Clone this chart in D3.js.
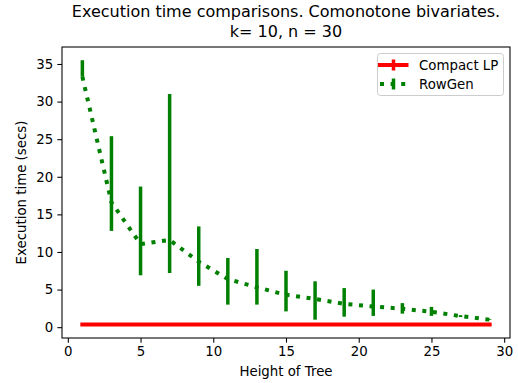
<!DOCTYPE html>
<html>
<head>
<meta charset="utf-8">
<script src="https://cdn.jsdelivr.net/npm/d3@7"></script>
<style>
  body { margin: 0; background: #fff; }
  text { font-family: "DejaVu Sans", sans-serif; fill: #000; }
</style>
</head>
<body>
<div id="chart"></div>
<script>
// Data
const heights = [1, 3, 5, 7, 9, 11, 13, 15, 17, 19, 21, 23, 25, 27, 29];

const compactMean = [0.35, 0.35, 0.35, 0.35, 0.35, 0.35, 0.35, 0.35, 0.35, 0.35, 0.35, 0.35, 0.35, 0.35, 0.35];
const compactLo = [0.32, 0.32, 0.32, 0.32, 0.32, 0.32, 0.32, 0.32, 0.32, 0.32, 0.32, 0.32, 0.32, 0.32, 0.32];
const compactHi = [0.38, 0.38, 0.38, 0.38, 0.38, 0.38, 0.38, 0.38, 0.38, 0.38, 0.38, 0.38, 0.38, 0.38, 0.38];

const rowgenMean = [33.3, 16.6, 11.05, 11.6, 8.7, 6.4, 5.3, 4.3, 3.75, 3.1, 2.75, 2.45, 2.05, 1.47, 1.0];
const rowgenLo = [33.3, 12.8, 6.9, 7.2, 5.5, 3.0, 3.0, 2.1, 1.0, 1.4, 1.5, 1.8, 1.5, 1.35, 0.95];
const rowgenHi = [35.5, 25.4, 18.7, 31.0, 13.4, 9.2, 10.4, 7.5, 6.1, 5.2, 5.0, 3.2, 2.7, 1.6, 1.05];

const xTicks = [0, 5, 10, 15, 20, 25, 30];
const yTicks = [0, 5, 10, 15, 20, 25, 30, 35];

const seriesNames = ["Compact LP", "RowGen"];

// Dimensions
const dimensions = {
  width: 518,
  height: 383,
  margin: { top: 47, bottom: 45, left: 62, right: 8 },
};
dimensions.containerWidth = dimensions.width - dimensions.margin.left - dimensions.margin.right;
dimensions.containerHeight = dimensions.height - dimensions.margin.top - dimensions.margin.bottom;

const svg = d3.select("#chart")
  .append("svg")
  .attr("width", dimensions.width)
  .attr("height", dimensions.height);

const container = svg.append("g")
  .attr("transform", `translate(${dimensions.margin.left}, ${dimensions.margin.top})`);

// Scales (matplotlib style 5% margins)
const xMin = d3.min(heights), xMax = d3.max(heights);
const xPad = (xMax - xMin) * 0.05;
const yMinData = d3.min([...compactLo, ...rowgenLo]);
const yMaxData = d3.max([...compactHi, ...rowgenHi]);
const yPad = (yMaxData - yMinData) * 0.05;

const xScale = d3.scaleLinear()
  .domain([xMin - xPad, xMax + xPad])
  .range([0, dimensions.containerWidth]);
const yScale = d3.scaleLinear()
  .domain([yMinData - yPad, yMaxData + yPad])
  .range([dimensions.containerHeight, 0]);

// Axes
const xAxis = d3.axisBottom(xScale).tickValues(xTicks).tickSize(4.67).tickPadding(4.2);
const yAxis = d3.axisLeft(yScale).tickValues(yTicks).tickSize(4.67).tickPadding(4.2);

const xAxisGroup = container.append("g")
  .attr("transform", `translate(0, ${dimensions.containerHeight})`)
  .call(xAxis);
const yAxisGroup = container.append("g").call(yAxis);

[xAxisGroup, yAxisGroup].forEach((g) => {
  g.select(".domain").remove();
  g.selectAll(".tick line").attr("stroke", "#000").attr("stroke-width", 1.07);
  g.selectAll(".tick text")
    .style("font-family", "DejaVu Sans")
    .style("font-size", "13.33px")
    .attr("fill", "#000");
});

// Lines
const idx = d3.range(heights.length);

const redLine = d3.line()
  .x((i) => xScale(heights[i]))
  .y((i) => yScale(compactMean[i]));
const greenLine = d3.line()
  .x((i) => xScale(heights[i]))
  .y((i) => yScale(rowgenMean[i]));

// Compact LP
container.append("path")
  .attr("d", redLine(idx))
  .attr("fill", "none")
  .attr("stroke", "red")
  .attr("stroke-width", 4)
  .attr("stroke-linecap", "square");
container.append("g")
  .selectAll("line")
  .data(idx)
  .join("line")
  .attr("x1", (i) => xScale(heights[i]))
  .attr("x2", (i) => xScale(heights[i]))
  .attr("y1", (i) => yScale(compactLo[i]))
  .attr("y2", (i) => yScale(compactHi[i]))
  .attr("stroke", "red")
  .attr("stroke-width", 3.5);

// RowGen
container.append("path")
  .attr("d", greenLine(idx))
  .attr("fill", "none")
  .attr("stroke", "green")
  .attr("stroke-width", 4)
  .attr("stroke-dasharray", "4,6.6");
container.append("g")
  .selectAll("line")
  .data(idx)
  .join("line")
  .attr("x1", (i) => xScale(heights[i]))
  .attr("x2", (i) => xScale(heights[i]))
  .attr("y1", (i) => yScale(rowgenLo[i]))
  .attr("y2", (i) => yScale(rowgenHi[i]))
  .attr("stroke", "green")
  .attr("stroke-width", 3.5);

// Frame
container.append("rect")
  .attr("width", dimensions.containerWidth)
  .attr("height", dimensions.containerHeight)
  .attr("fill", "none")
  .attr("stroke", "#000")
  .attr("stroke-width", 1.07);

// Labels
container.append("text")
  .attr("x", dimensions.containerWidth / 2)
  .attr("y", dimensions.containerHeight + 38)
  .attr("text-anchor", "middle")
  .style("font-size", "13.33px")
  .text("Height of Tree");

container.append("text")
  .attr("transform", `translate(-36, ${dimensions.containerHeight / 2}) rotate(-90)`)
  .attr("text-anchor", "middle")
  .style("font-size", "13.33px")
  .text("Execution time (secs)");

const title = container.append("text")
  .attr("text-anchor", "middle")
  .style("font-size", "16px");
title.append("tspan")
  .attr("x", dimensions.containerWidth / 2)
  .attr("y", -30)
  .text("Execution time comparisons. Comonotone bivariates.");
title.append("tspan")
  .attr("x", dimensions.containerWidth / 2)
  .attr("y", -10.5)
  .text("k= 10, n = 30");

// Legend
const legend = container.append("g")
  .attr("transform", `translate(${dimensions.containerWidth - 133}, 6)`);
legend.append("rect")
  .attr("x", 0.5)
  .attr("y", 0.5)
  .attr("width", 126)
  .attr("height", 42)
  .attr("rx", 3)
  .attr("fill", "#fff")
  .attr("fill-opacity", 0.8)
  .attr("stroke", "#cccccc")
  .attr("stroke-width", 1);

const legendColors = ["red", "green"];
const legendDash = [null, "4,6.6"];
const legendCaps = ["square", "butt"];
seriesNames.forEach((name, i) => {
  const ly = 12 + i * 19;
  legend.append("line")
    .attr("x1", 3)
    .attr("x2", 29.5)
    .attr("y1", ly)
    .attr("y2", ly)
    .attr("stroke", legendColors[i])
    .attr("stroke-width", 4)
    .attr("stroke-linecap", legendCaps[i])
    .attr("stroke-dasharray", legendDash[i]);
  legend.append("line")
    .attr("x1", 16.5)
    .attr("x2", 16.5)
    .attr("y1", ly - 5.5)
    .attr("y2", ly + 5.5)
    .attr("stroke", legendColors[i])
    .attr("stroke-width", 3.5);
  legend.append("text")
    .attr("x", 42)
    .attr("y", ly + 4.7)
    .style("font-size", "13.33px")
    .text(name);
});
</script>
</body>
</html>
